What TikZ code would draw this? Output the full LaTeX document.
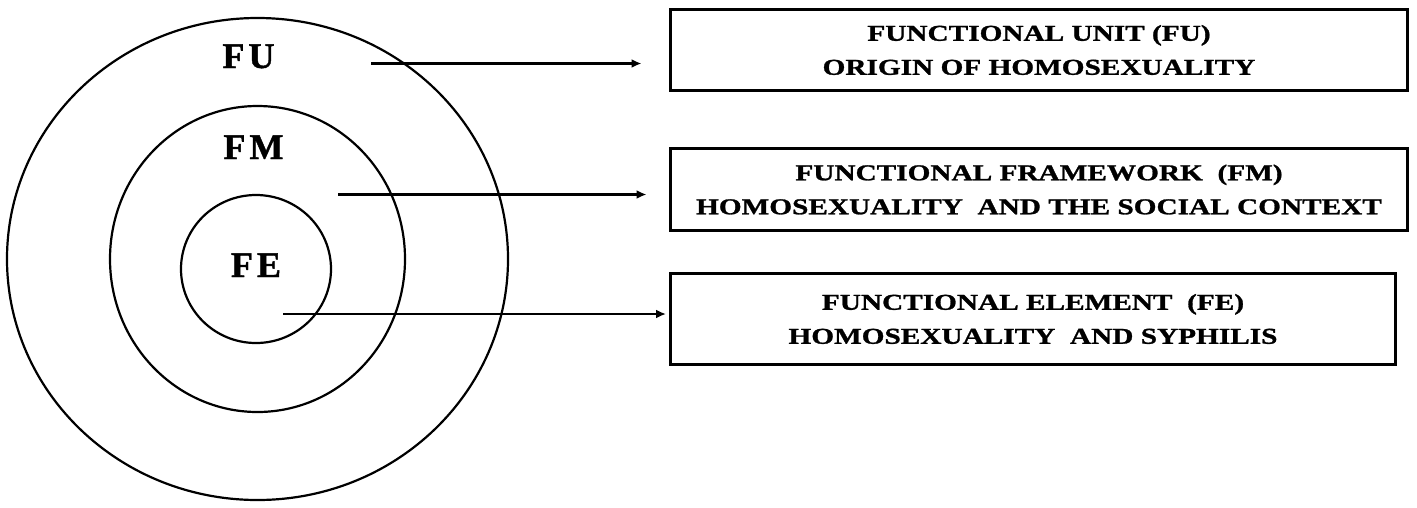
\documentclass[tikz,border=0pt]{standalone}
\usepackage{fontspec}
\setmainfont{Liberation Serif}
\newfontfamily\boxfont[FakeStretch=1.29,FakeBold=1.2]{Liberation Serif}
\newfontfamily\labfont[FakeBold=1.2]{Liberation Serif}
\usetikzlibrary{arrows.meta,shapes.geometric}
\begin{document}
\begin{tikzpicture}[x=1pt,y=-1pt,
  ring/.style={draw, ellipse, line width=2.2pt, inner sep=0pt},
  lab/.style={font=\labfont\fontsize{36}{40}\selectfont\bfseries, inner sep=0pt, anchor=base},
  infobox/.style={draw, line width=3pt, inner sep=0pt, align=center,
    font=\boxfont\fontsize{22.7}{34}\selectfont\bfseries},
  arr/.style={line width=2.2pt, -{Latex[length=10pt,width=9pt]}}]
\useasboundingbox (0,0) rectangle (1417,507);
% rings
\node[ring, minimum width=501pt, minimum height=482pt] (outer) at (257.5,259) {};
\node[ring, minimum width=295pt, minimum height=306pt] (middle) at (257.5,259) {};
\node[ring, minimum width=150pt, minimum height=148pt] (inner) at (256,269) {};
% ring labels
\node[lab] (fu) at (248.5,68) {F\kern4pt U};
\node[lab] (fm) at (253.5,159) {F\kern4pt M};
\node[lab] (fe) at (256,277) {F\kern4pt E};
% boxes
\node[infobox, minimum width=737pt, minimum height=81pt] (b1) at (1039,50)
  {FUNCTIONAL UNIT (FU)\\ORIGIN OF HOMOSEXUALITY};
\node[infobox, minimum width=737pt, minimum height=82pt] (b2) at (1039,189.5)
  {FUNCTIONAL FRAMEWORK~\ (FM)\\HOMOSEXUALITY~\ AND THE SOCIAL CONTEXT};
\node[infobox, minimum width=725pt, minimum height=91pt] (b3) at (1033,319)
  {FUNCTIONAL ELEMENT~\ (FE)\\HOMOSEXUALITY~\ AND SYPHILIS};
% arrows
\coordinate (s1) at (371,63.5);
\coordinate (s2) at (338,194.5);
\coordinate (s3) at (283,314);
\draw[arr, shorten >=27.5pt] (s1) -- (s1 -| b1.west);
\draw[arr, shorten >=22.5pt] (s2) -- (s2 -| b2.west);
\draw[arr, shorten >=3pt] (s3) -- (s3 -| b3.west);
\end{tikzpicture}
\end{document}
